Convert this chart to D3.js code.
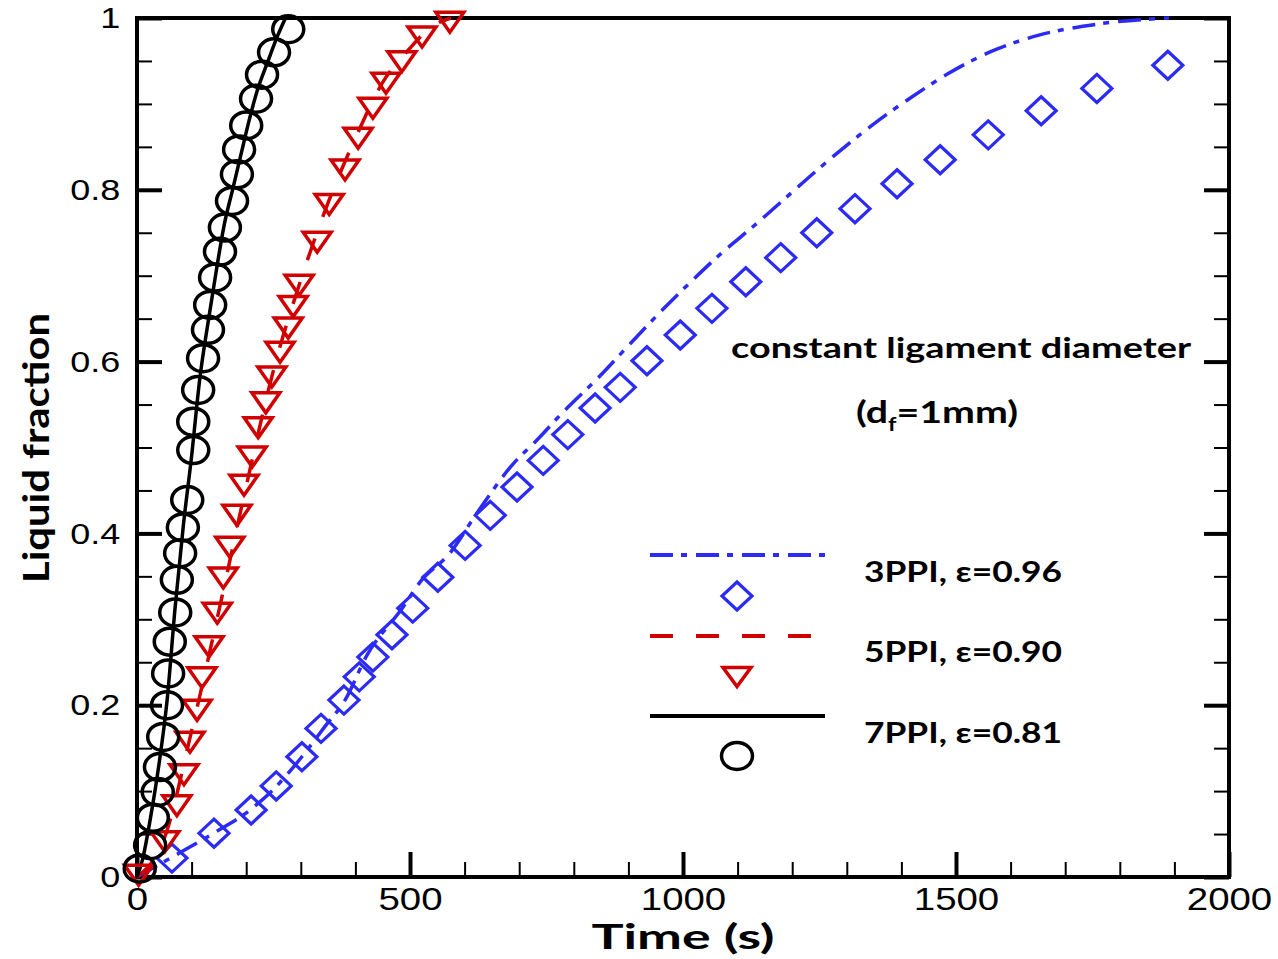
<!DOCTYPE html>
<html>
<head>
<meta charset="utf-8">
<script src="https://cdn.jsdelivr.net/npm/d3@7"></script>
<style>
  body { margin: 0; background: #fff; }
  .tick line { stroke: #000; }
  .boldText { font-family: Lato, "Open Sans", sans-serif; font-weight: 700; fill: #000; }
  .tickLab { font-family: "Liberation Sans", Arial, sans-serif; fill: #000; }
</style>
</head>
<body>
<div id="chart"></div>
<script>
// Data (time in s, liquid fraction)
const ppi3DiamondT = [64, 141, 209, 255, 302, 337, 379, 407, 432, 467, 505, 551, 601, 647, 696, 744, 789, 839, 885, 934, 995, 1053, 1115, 1179, 1245, 1315, 1392, 1471, 1559, 1656, 1758, 1888];
const ppi3DiamondY = [0.022, 0.051, 0.078, 0.106, 0.140, 0.173, 0.206, 0.233, 0.256, 0.282, 0.313, 0.349, 0.386, 0.421, 0.454, 0.485, 0.515, 0.546, 0.570, 0.601, 0.631, 0.662, 0.693, 0.721, 0.750, 0.778, 0.807, 0.835, 0.864, 0.892, 0.918, 0.945];
const ppi3LineT = [0, 64, 143, 207, 256, 302, 344, 381, 421, 487, 518, 573, 623, 689, 733, 780, 846, 905, 962, 1013, 1070, 1128, 1187, 1244, 1302, 1352, 1419, 1485, 1568, 1652, 1760, 1890];
const ppi3LineY = [0, 0.023, 0.052, 0.078, 0.106, 0.140, 0.175, 0.206, 0.258, 0.314, 0.343, 0.377, 0.424, 0.481, 0.509, 0.541, 0.582, 0.622, 0.660, 0.692, 0.726, 0.757, 0.790, 0.822, 0.853, 0.878, 0.908, 0.935, 0.962, 0.980, 0.993, 1.0];

const ppi5TriT = [3, 51, 73, 86, 97, 110, 119, 132, 147, 158, 170, 183, 196, 211, 222, 236, 247, 262, 277, 286, 297, 330, 352, 381, 405, 432, 456, 485, 522, 573];
const ppi5TriY = [0.002, 0.041, 0.083, 0.119, 0.157, 0.194, 0.232, 0.268, 0.307, 0.348, 0.384, 0.421, 0.456, 0.489, 0.523, 0.552, 0.582, 0.611, 0.639, 0.664, 0.689, 0.739, 0.783, 0.823, 0.860, 0.895, 0.924, 0.949, 0.978, 0.995];
const ppi5LineT = [0, 50, 100, 150, 200, 250, 300, 350, 400, 450, 500, 540, 575];
const ppi5LineY = [0, 0.045, 0.170, 0.310, 0.455, 0.590, 0.695, 0.785, 0.860, 0.925, 0.965, 0.990, 1.0];

const ppi7CircT = [5, 24, 29, 38, 42, 48, 55, 57, 60, 70, 73, 79, 84, 92, 103, 103, 112, 121, 130, 134, 143, 152, 161, 174, 183, 187, 200, 218, 229, 251, 277];
const ppi7CircY = [0.010, 0.037, 0.069, 0.099, 0.128, 0.163, 0.200, 0.237, 0.274, 0.308, 0.346, 0.377, 0.407, 0.439, 0.497, 0.530, 0.567, 0.604, 0.637, 0.666, 0.698, 0.728, 0.756, 0.787, 0.818, 0.847, 0.875, 0.906, 0.934, 0.960, 0.987];
const ppi7LineT = [0, 10, 25, 40, 55, 70, 85, 100, 115, 130, 145, 160, 175, 190, 205, 220, 240, 258, 272];
const ppi7LineY = [0, 0.02, 0.07, 0.13, 0.205, 0.315, 0.41, 0.49, 0.58, 0.645, 0.705, 0.76, 0.80, 0.84, 0.88, 0.915, 0.95, 0.98, 1.0];

const xMajor = [0, 500, 1000, 1500, 2000];
const yMajor = [0, 0.2, 0.4, 0.6, 0.8, 1];
const yMajorLabels = ['0', '0.2', '0.4', '0.6', '0.8', '1'];

const legendLabels = ['3PPI, \u03b5=0.96', '5PPI, \u03b5=0.90', '7PPI, \u03b5=0.81'];

const width = 1278;
const height = 959;

const svg = d3.select('#chart').append('svg')
    .attr('width', width)
    .attr('height', height);

const xScale = d3.scaleLinear().domain([0, 2000]).range([137, 1229]);
const yScale = d3.scaleLinear().domain([0, 1]).range([877, 18]);

const xMinor = d3.range(0, 2001, 100).filter(v => v % 500 !== 0);
const yMinor = d3.range(0, 21).map(i => i * 0.05).filter((v, i) => i % 4 !== 0);

// axes (ticks point inward)
const bottomMajor = svg.append('g')
    .attr('transform', `translate(0, ${yScale(0)})`)
    .call(d3.axisBottom(xScale).tickValues(xMajor).tickSize(-25).tickPadding(11).tickFormat(d3.format('d')));
const bottomMinor = svg.append('g')
    .attr('transform', `translate(0, ${yScale(0)})`)
    .call(d3.axisBottom(xScale).tickValues(xMinor).tickSize(-15).tickFormat(''));

const leftMajor = svg.append('g')
    .attr('transform', `translate(${xScale(0)}, 0)`)
    .call(d3.axisLeft(yScale).tickValues(yMajor).tickSize(-25).tickPadding(14)
        .tickFormat((d, i) => yMajorLabels[i]));
const leftMinor = svg.append('g')
    .attr('transform', `translate(${xScale(0)}, 0)`)
    .call(d3.axisLeft(yScale).tickValues(yMinor).tickSize(-15).tickFormat(''));

const rightMajor = svg.append('g')
    .attr('transform', `translate(${xScale(2000)}, 0)`)
    .call(d3.axisRight(yScale).tickValues(yMajor).tickSize(-25).tickFormat(''));
const rightMinor = svg.append('g')
    .attr('transform', `translate(${xScale(2000)}, 0)`)
    .call(d3.axisRight(yScale).tickValues(yMinor).tickSize(-15).tickFormat(''));

svg.selectAll('.domain').remove();
[bottomMajor, leftMajor, rightMajor].forEach(g => g.selectAll('.tick line').attr('stroke-width', 4));
[bottomMinor, leftMinor, rightMinor].forEach(g => g.selectAll('.tick line').attr('stroke-width', 2));

bottomMajor.selectAll('text')
    .attr('class', 'tickLab')
    .attr('font-size', 31)
    .attr('transform', 'scale(1.24,1)');
leftMajor.selectAll('text')
    .attr('class', 'tickLab')
    .attr('font-size', 30)
    .attr('transform', 'scale(1.2,1)');

// frame
svg.append('rect')
    .attr('x', xScale(0))
    .attr('y', yScale(1))
    .attr('width', xScale(2000) - xScale(0))
    .attr('height', yScale(0) - yScale(1))
    .attr('fill', 'none')
    .attr('stroke', '#000')
    .attr('stroke-width', 4);

// lines
const zip = (ts, ys) => ts.map((t, i) => ({ t: t, y: ys[i] }));
const line = d3.line()
    .x(d => xScale(d.t))
    .y(d => yScale(d.y))
    .curve(d3.curveMonotoneX);

const blue = '#2b2bf5';
const red = '#d00000';

svg.append('path').datum(zip(ppi3LineT, ppi3LineY))
    .attr('d', line).attr('fill', 'none').attr('stroke', blue)
    .attr('stroke-width', 3.5).attr('stroke-dasharray', '23,8,6,9');
svg.append('path').datum(zip(ppi5LineT, ppi5LineY))
    .attr('d', line).attr('fill', 'none').attr('stroke', red)
    .attr('stroke-width', 3.5).attr('stroke-dasharray', '23,23');
svg.append('path').datum(zip(ppi7LineT, ppi7LineY))
    .attr('d', line).attr('fill', 'none').attr('stroke', '#000')
    .attr('stroke-width', 3.5);

// marker shapes
const diamondPath = (w, h) => `M0,${-h / 2}L${w / 2},0L0,${h / 2}L${-w / 2},0Z`;
const trianglePath = (w, h) => `M${-w / 2},${-h / 2}L${w / 2},${-h / 2}L0,${h / 2}Z`;

svg.append('g').selectAll('path')
    .data(zip(ppi3DiamondT, ppi3DiamondY))
    .enter().append('path')
        .attr('d', diamondPath(30, 28))
        .attr('transform', d => `translate(${xScale(d.t)}, ${yScale(d.y)})`)
        .attr('fill', 'none').attr('stroke', blue).attr('stroke-width', 3.2);

svg.append('g').selectAll('path')
    .data(zip(ppi5TriT, ppi5TriY))
    .enter().append('path')
        .attr('d', trianglePath(28, 20))
        .attr('transform', d => `translate(${xScale(d.t)}, ${yScale(d.y)})`)
        .attr('fill', 'none').attr('stroke', red).attr('stroke-width', 3.5)
        .attr('stroke-linejoin', 'miter');

svg.append('g').selectAll('ellipse')
    .data(zip(ppi7CircT, ppi7CircY))
    .enter().append('ellipse')
        .attr('cx', d => xScale(d.t))
        .attr('cy', d => yScale(d.y))
        .attr('rx', 15.5)
        .attr('ry', 13.5)
        .attr('fill', 'none').attr('stroke', '#000').attr('stroke-width', 3.5);

// legend
const legend = svg.append('g');
legend.append('line').attr('x1', 650).attr('x2', 825).attr('y1', 555).attr('y2', 555)
    .attr('stroke', blue).attr('stroke-width', 4).attr('stroke-dasharray', '23,8,6,9');
legend.append('path').attr('d', diamondPath(30, 28)).attr('transform', 'translate(737,596)')
    .attr('fill', 'none').attr('stroke', blue).attr('stroke-width', 3.2);
legend.append('line').attr('x1', 650).attr('x2', 815).attr('y1', 636).attr('y2', 636)
    .attr('stroke', red).attr('stroke-width', 4).attr('stroke-dasharray', '23,23');
legend.append('path').attr('d', trianglePath(28, 19)).attr('transform', 'translate(737,677)')
    .attr('fill', 'none').attr('stroke', red).attr('stroke-width', 3.5);
legend.append('line').attr('x1', 650).attr('x2', 825).attr('y1', 716).attr('y2', 716)
    .attr('stroke', '#000').attr('stroke-width', 4);
legend.append('ellipse').attr('cx', 737).attr('cy', 756).attr('rx', 15.5).attr('ry', 13.5)
    .attr('fill', 'none').attr('stroke', '#000').attr('stroke-width', 3.5);

legend.selectAll('text.leg')
    .data(legendLabels)
    .enter().append('text')
        .attr('class', 'boldText leg')
        .attr('x', 864)
        .attr('y', (d, i) => [582, 662, 743][i])
        .attr('font-size', 28)
        .attr('textLength', 198)
        .attr('lengthAdjust', 'spacingAndGlyphs')
        .text(d => d);

// annotation
svg.append('text')
    .attr('class', 'boldText')
    .attr('x', 731).attr('y', 358)
    .attr('font-size', 29)
    .attr('textLength', 460)
    .attr('lengthAdjust', 'spacingAndGlyphs')
    .text('constant ligament diameter');

const note = svg.append('text')
    .attr('class', 'boldText')
    .attr('x', 856).attr('y', 423)
    .attr('font-size', 30)
    .attr('textLength', 162)
    .attr('lengthAdjust', 'spacingAndGlyphs');
note.append('tspan').text('(d');
note.append('tspan').attr('font-size', 18).attr('dy', 8).text('f');
note.append('tspan').attr('dy', -8).text('=1mm)');

// axis titles
svg.append('text')
    .attr('class', 'boldText')
    .attr('x', 683).attr('y', 949)
    .attr('font-size', 35)
    .attr('text-anchor', 'middle')
    .attr('textLength', 183)
    .attr('lengthAdjust', 'spacingAndGlyphs')
    .text('Time (s)');

svg.append('text')
    .attr('class', 'boldText')
    .attr('transform', 'translate(49, 448) rotate(-90)')
    .attr('font-size', 36)
    .attr('text-anchor', 'middle')
    .attr('textLength', 270)
    .attr('lengthAdjust', 'spacingAndGlyphs')
    .text('Liquid fraction');
</script>
</body>
</html>
